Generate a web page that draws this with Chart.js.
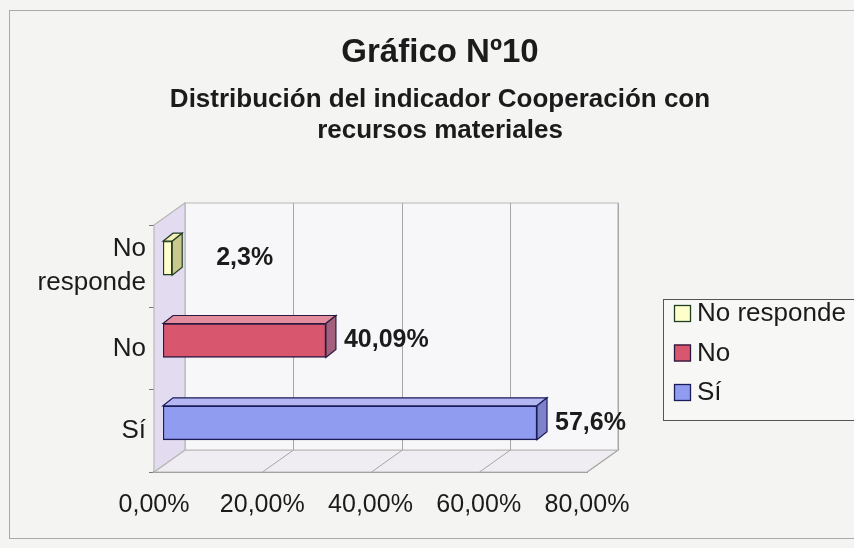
<!DOCTYPE html>
<html>
<head>
<meta charset="utf-8">
<script src="https://cdn.jsdelivr.net/npm/chart.js@4"></script>
<style>
  html, body { margin: 0; padding: 0; background: #f4f4f2; }
</style>
</head>
<body>
<canvas id="grafico10" width="854" height="548"></canvas>
<script>
// values
const categories = ['No responde', 'No', 'Sí'];
const barValues = [1.7, 30.1, 69.1];          // drawn bar lengths (%)
const valueLabels = ['2,3%', '40,09%', '57,6%']; // printed data labels
const xTickValues = [0, 20, 40, 60, 80];
const titleText = 'Gráfico Nº10';
const subtitleLines = ['Distribución del indicador Cooperación con', 'recursos materiales'];

const frontColors = ['#ffffcc', '#d9566f', '#8f9cf0'];
const topColors = ['#f2eeb8', '#e28c9e', '#b3b7f3'];
const sideColors = ['#c9c98e', '#a3607c', '#7d82c9'];
const edgeColors = ['#1f3d20', '#2b1a40', '#1c1c5a'];

const FONT = "'Liberation Sans', Arial, sans-serif";
const WALL_DX = 31, WALL_DY = -22; // back wall offset
const BAR_DX = 9, BAR_DY = -8;     // bars sit slightly behind the front plane
const BOX_DX = 10, BOX_DY = -8;    // depth of each bar

function poly(ctx, pts, fill, stroke) {
  ctx.beginPath();
  ctx.moveTo(pts[0][0], pts[0][1]);
  for (let i = 1; i < pts.length; i++) ctx.lineTo(pts[i][0], pts[i][1]);
  ctx.closePath();
  if (fill) { ctx.fillStyle = fill; ctx.fill(); }
  if (stroke) { ctx.strokeStyle = stroke; ctx.lineWidth = 1.2; ctx.stroke(); }
}

const backdrop = {
  id: 'backdrop',
  beforeDraw(chart) {
    const ctx = chart.ctx;
    ctx.save();
    ctx.fillStyle = '#f4f4f2';
    ctx.fillRect(0, 0, chart.width, chart.height);
    ctx.strokeStyle = '#a9a9a9';
    ctx.lineWidth = 1;
    ctx.strokeRect(9.5, 10.5, chart.width - 8, chart.height - 20);
    ctx.fillStyle = '#1b1b1b';
    ctx.textAlign = 'center';
    ctx.textBaseline = 'alphabetic';
    ctx.font = 'bold 33px ' + FONT;
    ctx.fillText(titleText, 440, 62);
    ctx.font = 'bold 26px ' + FONT;
    subtitleLines.forEach((line, i) => ctx.fillText(line, 440, 107 + i * 31));
    ctx.restore();
  }
};

const walls = {
  id: 'walls',
  beforeDatasetsDraw(chart) {
    const { ctx, chartArea: a, scales: { x } } = chart;
    ctx.save();
    // floor, back wall, left wall
    poly(ctx, [[a.left, a.bottom], [a.left + WALL_DX, a.bottom + WALL_DY],
               [a.right + WALL_DX, a.bottom + WALL_DY], [a.right, a.bottom]], '#efedf2', '#b8b8b8');
    poly(ctx, [[a.left + WALL_DX, a.top + WALL_DY], [a.right + WALL_DX, a.top + WALL_DY],
               [a.right + WALL_DX, a.bottom + WALL_DY], [a.left + WALL_DX, a.bottom + WALL_DY]], '#f7f6f8', '#b8b8b8');
    poly(ctx, [[a.left, a.top], [a.left + WALL_DX, a.top + WALL_DY],
               [a.left + WALL_DX, a.bottom + WALL_DY], [a.left, a.bottom]], '#e3dbef', '#b8b8b8');
    // gridlines on the back wall and floor
    ctx.strokeStyle = '#a6a6a6';
    ctx.lineWidth = 1;
    xTickValues.slice(1).forEach(v => {
      const px = Math.round(x.getPixelForValue(v)) + 0.5;
      ctx.beginPath();
      ctx.moveTo(px, a.bottom);
      ctx.lineTo(px + WALL_DX, a.bottom + WALL_DY);
      ctx.lineTo(px + WALL_DX, a.top + WALL_DY);
      ctx.stroke();
    });
    ctx.restore();
    ctx.save();
    ctx.translate(BAR_DX, BAR_DY);
  },
  afterDatasetsDraw(chart) {
    const ctx = chart.ctx;
    const meta = chart.getDatasetMeta(0);
    meta.data.forEach((bar, i) => {
      const { x, y, base, height } = bar.getProps(['x', 'y', 'base', 'height'], true);
      const top = y - height / 2, bot = y + height / 2;
      poly(ctx, [[base, top], [base + BOX_DX, top + BOX_DY], [x + BOX_DX, top + BOX_DY], [x, top]], topColors[i], edgeColors[i]);
      poly(ctx, [[x, top], [x + BOX_DX, top + BOX_DY], [x + BOX_DX, bot + BOX_DY], [x, bot]], sideColors[i], edgeColors[i]);
    });
    ctx.restore();

    // data labels
    const xs = chart.scales.x;
    ctx.save();
    ctx.font = 'bold 25px ' + FONT;
    ctx.fillStyle = '#1b1b1b';
    ctx.textAlign = 'left';
    ctx.textBaseline = 'middle';
    meta.data.forEach((bar, i) => {
      const lx = Math.max(bar.x + BAR_DX + BOX_DX + 8, xs.getPixelForValue(10) + 8);
      ctx.fillText(valueLabels[i], lx, bar.y + BAR_DY);
    });
    ctx.restore();
  }
};

const boxLegend = {
  id: 'boxLegend',
  afterDraw(chart) {
    const ctx = chart.ctx;
    ctx.save();
    ctx.fillStyle = '#f7f7f5';
    ctx.fillRect(663, 299, 200, 121);
    ctx.strokeStyle = '#555';
    ctx.lineWidth = 1;
    ctx.strokeRect(663.5, 299.5, 200, 121);
    ctx.font = '26px ' + FONT;
    ctx.textBaseline = 'middle';
    ctx.textAlign = 'left';
    categories.forEach((c, i) => {
      const cy = 313 + i * 39.5;
      ctx.fillStyle = frontColors[i];
      ctx.fillRect(674, cy - 8, 17, 17);
      ctx.strokeStyle = edgeColors[i];
      ctx.lineWidth = 1.3;
      ctx.strokeRect(674.5, cy - 7.5, 16, 16);
      ctx.fillStyle = '#1b1b1b';
      ctx.fillText(c, 697, cy + 1);
    });
    ctx.restore();
  }
};

function createChart() {
  const ctx = document.getElementById('grafico10').getContext('2d');
  new Chart(ctx, {
    type: 'bar',
    data: {
      labels: categories,
      datasets: [{
        data: barValues,
        backgroundColor: frontColors,
        borderColor: edgeColors,
        borderWidth: 1.5,
        borderSkipped: false,
        barThickness: 34
      }]
    },
    options: {
      indexAxis: 'y',
      responsive: false,
      animation: false,
      devicePixelRatio: 1,
      layout: { padding: { left: 10, right: 267, top: 225, bottom: 30 } },
      plugins: {
        legend: { display: false },
        title: { display: false },
        tooltip: { enabled: false }
      },
      scales: {
        x: {
          min: 0,
          max: 80,
          afterBuildTicks: s => { s.ticks = xTickValues.map(v => ({ value: v })); },
          afterFit: s => { s.height = 46; },
          grid: { display: false },
          border: { display: true, color: '#222', width: 1.5 },
          ticks: {
            padding: 10,
            color: '#1b1b1b',
            font: { size: 25, family: FONT },
            callback: v => v.toFixed(2).replace('.', ',') + '%'
          }
        },
        y: {
          afterFit: s => { s.width = 144; },
          grid: { display: true, drawOnChartArea: false, offset: true, tickLength: 5, color: '#777' },
          border: { display: true, color: '#9a9a9a' },
          ticks: {
            padding: 3,
            color: '#1b1b1b',
            font: { size: 26, family: FONT, lineHeight: 1.3 },
            callback: function(v, i) {
              const lab = categories[i];
              return lab.includes(' ') ? lab.split(' ') : lab;
            }
          }
        }
      }
    },
    plugins: [backdrop, walls, boxLegend]
  });
}

document.addEventListener('DOMContentLoaded', createChart);
</script>
</body>
</html>
